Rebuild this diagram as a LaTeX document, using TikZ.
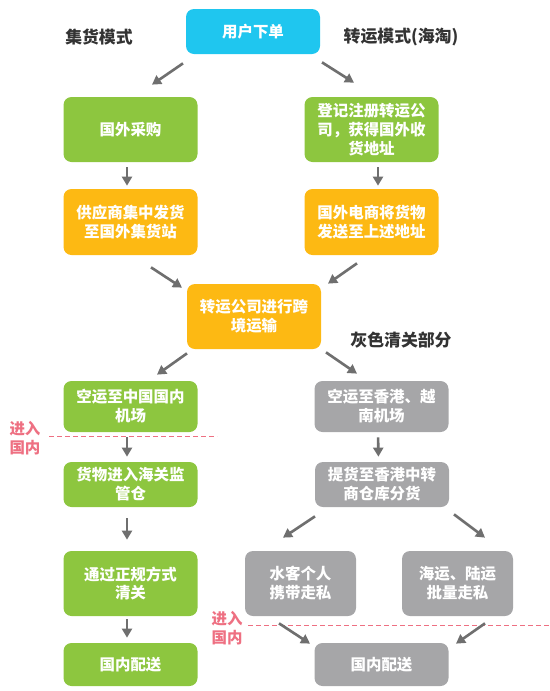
\documentclass[tikz,border=0pt]{standalone}
\usepackage{fontspec}
\setmainfont{Noto Sans CJK SC Black}
\usetikzlibrary{arrows.meta, positioning, calc}

\definecolor{ordercyan}{HTML}{1FC6EF}
\definecolor{stepgreen}{HTML}{8DC63F}
\definecolor{stepyellow}{HTML}{FDB913}
\definecolor{stepgray}{HTML}{A6A6A8}
\definecolor{arrowgray}{HTML}{6F6F6F}
\definecolor{titlegray}{HTML}{333333}
\definecolor{entrypink}{HTML}{EE7082}

\begin{document}
\begin{tikzpicture}[>={Triangle[length=1.8mm,width=2mm]}, font=\fontsize{8.8}{10.8}\selectfont,
    box/.style={rounded corners=1.6mm, text=white, align=center, minimum width=2.68cm, inner sep=0pt},
    arr/.style={->, draw=arrowgray, line width=1.5pt},
    title/.style={text=titlegray, font=\fontsize{9.6}{11.5}\selectfont},
    entry/.style={text=entrypink, align=center},
    border/.style={draw=entrypink, dash pattern=on 1mm off 0.6mm, line width=0.5pt}]
    \useasboundingbox (0,0) rectangle (11,-13.82);

    % top
    \node[box, fill=ordercyan, minimum height=0.9cm] at (5.06,-0.63) (order) {用户下单};
    \node[title] at (1.98,-0.74) (mode1) {集货模式};
    \node[title] at (8.02,-0.74) (mode2) {转运模式(海淘)};

    % left column
    \node[box, fill=stepgreen, minimum height=1.3cm] at (2.61,-2.59) (buy) {国外采购};
    \node[box, fill=stepyellow, minimum height=1.32cm] at (2.61,-4.44) (supply) {供应商集中发货\\至国外集货站};
    \node[box, fill=stepgreen, minimum height=1.02cm] at (2.61,-8.13) (aircn) {空运至中国国内\\机场};
    \node[box, fill=stepgreen, minimum height=0.9cm] at (2.61,-9.69) (bond) {货物进入海关监\\管仓};
    \node[box, fill=stepgreen, minimum height=1.3cm] at (2.61,-11.67) (clear) {通过正规方式\\清关};
    \node[box, fill=stepgreen, minimum height=0.86cm] at (2.61,-13.29) (homeL) {国内配送};

    % right column
    \node[box, fill=stepgreen, minimum height=1.3cm] at (7.43,-2.59) (reg) {登记注册转运公\\司，获得国外收\\货地址};
    \node[box, fill=stepyellow, minimum height=1.32cm] at (7.43,-4.44) (ship) {国外电商将货物\\发送至上述地址};
    \node[box, fill=stepyellow, minimum height=1.3cm] at (5.08,-6.33) (cross) {转运公司进行跨\\境运输};
    \node[title] at (8.02,-6.80) (graymode) {灰色清关部分};
    \node[box, fill=stepgray, minimum height=1.02cm] at (7.63,-8.13) (airhk) {空运至香港、越\\南机场};
    \node[box, fill=stepgray, minimum height=0.9cm] at (7.64,-9.69) (pickup) {提货至香港中转\\商仓库分货};
    \node[box, fill=stepgray, minimum height=1.3cm, minimum width=2.22cm] at (6.01,-11.67) (carry) {水客个人\\携带走私};
    \node[box, fill=stepgray, minimum height=1.3cm, minimum width=2.22cm] at (9.15,-11.67) (bulk) {海运、陆运\\批量走私};
    \node[box, fill=stepgray, minimum height=0.86cm] at (7.63,-13.29) (homeR) {国内配送};

    % entering the country
    \draw[border] (0.98,-8.72) -- (4.34,-8.72);
    \node[entry] at (0.50,-8.76) (entry1) {进入\\国内};
    \draw[border] (4.96,-12.50) -- (11,-12.50);
    \node[entry] at (4.54,-12.56) (entry2) {进入\\国内};

    % arrows
    \draw[arr] ([xshift=-1.40cm,yshift=-1.8mm]order.south) -- ([xshift=0.43cm,yshift=2.4mm]buy.north);
    \draw[arr] ([xshift=1.38cm,yshift=-1.6mm]order.south) -- ([xshift=-0.35cm,yshift=2.8mm]reg.north);
    \draw[arr, shorten <=1mm, shorten >=0.6mm] ([xshift=-0.7mm]buy.south) -- ([xshift=-0.7mm]supply.north);
    \draw[arr, shorten <=1mm, shorten >=0.6mm] ([xshift=1.3mm]reg.south) -- ([xshift=1.3mm]ship.north);
    \draw[arr] ([xshift=0.41cm,yshift=-2.4mm]supply.south) -- ([xshift=-1.44cm,yshift=-0.8mm]cross.north);
    \draw[arr] ([xshift=-0.29cm,yshift=-1.6mm]ship.south) -- ([xshift=1.48cm]cross.north);
    \draw[arr] ([xshift=-1.34cm,yshift=-0.8mm]cross.south) -- ([xshift=0.53cm,yshift=1.2mm]aircn.north);
    \draw[arr] ([xshift=1.44cm,yshift=-0.6mm]cross.south) -- ([xshift=-0.49cm,yshift=1.4mm]airhk.north);
    \draw[arr, shorten <=1mm, shorten >=1mm] ([xshift=-0.7mm]aircn.south) -- ([xshift=-0.7mm]bond.north);
    \draw[arr, shorten <=1mm, shorten >=1mm] ([xshift=-0.7mm]airhk.south) -- ([xshift=-0.7mm]pickup.north);
    \draw[arr, shorten <=2.2mm, shorten >=2.2mm] ([xshift=-0.7mm]bond.south) -- ([xshift=-0.7mm]clear.north);
    \draw[arr] ([xshift=-1.34cm,yshift=-1.8mm]pickup.south) -- ([xshift=-0.35cm,yshift=2.6mm]carry.north);
    \draw[arr] ([xshift=1.44cm,yshift=-1.4mm]pickup.south) -- ([xshift=0.55cm,yshift=2.6mm]bulk.north);
    \draw[arr, shorten <=0.6mm, shorten >=1mm] ([xshift=-0.7mm]clear.south) -- ([xshift=-0.7mm]homeL.north);
    \draw[arr] ([xshift=-0.43cm,yshift=-1.4mm]carry.south) -- ([xshift=-1.43cm,yshift=-0.2mm]homeR.north);
    \draw[arr] ([xshift=0.55cm,yshift=-1.4mm]bulk.south) -- ([xshift=1.49cm,yshift=-0.2mm]homeR.north);
\end{tikzpicture}
\end{document}
